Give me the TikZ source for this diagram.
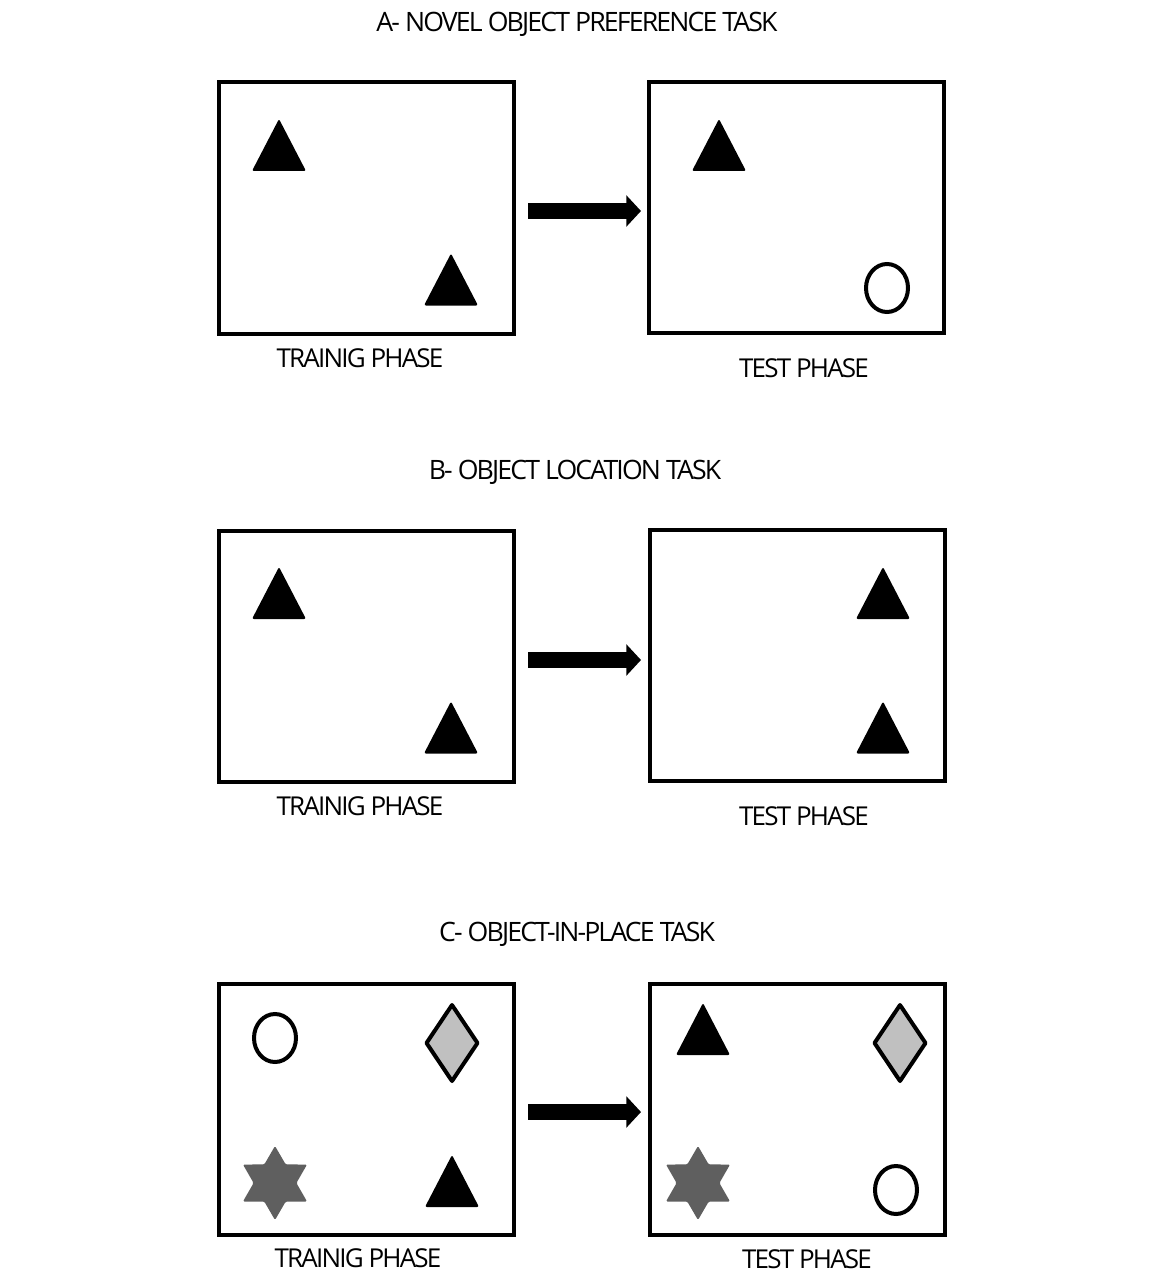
\documentclass[tikz,border=0pt]{standalone}
\usepackage{fontspec}
\setmainfont{Open Sans}[LetterSpace=-7]
\usetikzlibrary{arrows.meta}
\begin{document}
\begin{tikzpicture}[x=0.75pt,y=-0.75pt,
  panel/.style={draw,line width=3pt,minimum width=295*0.75pt,minimum height=251*0.75pt,inner sep=0pt,anchor=center},
  title/.style={font=\fontsize{20}{24}\selectfont,inner sep=0pt,anchor=center},
  lab/.style={font=\fontsize{19.5}{24}\selectfont,inner sep=0pt,anchor=center},
  bigarrow/.style={line width=11.5pt,-{Triangle[length=11pt,width=23pt]}},
  tri/.pic={\fill[rounded corners=1.5pt] (0,-26) -- (27,26) -- (-27,26) -- cycle;},
  ring/.pic={\draw[line width=3pt] (0,0) ellipse [x radius=21, y radius=24];},
  rhomb/.pic={\draw[line width=3pt,fill=diafill,line join=round] (0,-38) -- (25.5,0) -- (0,38) -- (-25.5,0) -- cycle;},
  hexstar/.pic={\fill[starfill,rounded corners=1pt] (90:37) -- (60:21.4) -- (30:37) -- (0:21.4) -- (-30:37) -- (-60:21.4) -- (-90:37) -- (-120:21.4) -- (-150:37) -- (180:21.4) -- (150:37) -- (120:21.4) -- cycle;}
]
\definecolor{diafill}{HTML}{C0C0C0}
\definecolor{starfill}{HTML}{5F5F5F}
\useasboundingbox[fill=white] (0,0) rectangle (1150,1277);

% ---------- A ----------
\node[title] (tA) at (577,24) {A- NOVEL OBJECT PREFERENCE TASK};
\node[panel] (aL) at (366.5,208) {};
\node[panel] (aR) at (796.5,207.5) {};
\coordinate (aS) at (528,211);
\coordinate (aE) at (641,211);
\draw[bigarrow] (aS) -- (aE);
\pic at (279,145) {tri};
\pic at (451,279.5) {tri};
\pic at (719,145) {tri};
\pic at (887,288) {ring};
\node[lab] (aLl) at (360,358) {TRAINIG PHASE};
\node[lab] (aRl) at (804,368) {TEST PHASE};

% ---------- B ----------
\node[title] (tB) at (575,472) {B- OBJECT LOCATION TASK};
\node[panel] (bL) at (366.5,656) {};
\node[panel] (bR) at (797.5,655) {};
\coordinate (bS) at (528,660);
\coordinate (bE) at (641,660);
\draw[bigarrow] (bS) -- (bE);
\pic at (279,593) {tri};
\pic at (451,727.5) {tri};
\pic at (883,593) {tri};
\pic at (883,727.5) {tri};
\node[lab] (bLl) at (360,806) {TRAINIG PHASE};
\node[lab] (bRl) at (804,816) {TEST PHASE};

% ---------- C ----------
\node[title] (tC) at (577,934) {C- OBJECT-IN-PLACE TASK};
\node[panel] (cL) at (366.5,1109) {};
\node[panel] (cR) at (797,1109) {};
\coordinate (cS) at (528,1112);
\coordinate (cE) at (641,1112);
\draw[bigarrow] (cS) -- (cE);
\pic at (275,1038) {ring};
\pic at (452,1043) {rhomb};
\pic at (275,1183) {hexstar};
\pic at (452,1181) {tri};
\pic at (703,1029) {tri};
\pic at (900,1043) {rhomb};
\pic at (698,1183) {hexstar};
\pic at (896,1190) {ring};
\node[lab] (cLl) at (358,1258) {TRAINIG PHASE};
\node[lab] (cRl) at (807,1259) {TEST PHASE};
\end{tikzpicture}
\end{document}
